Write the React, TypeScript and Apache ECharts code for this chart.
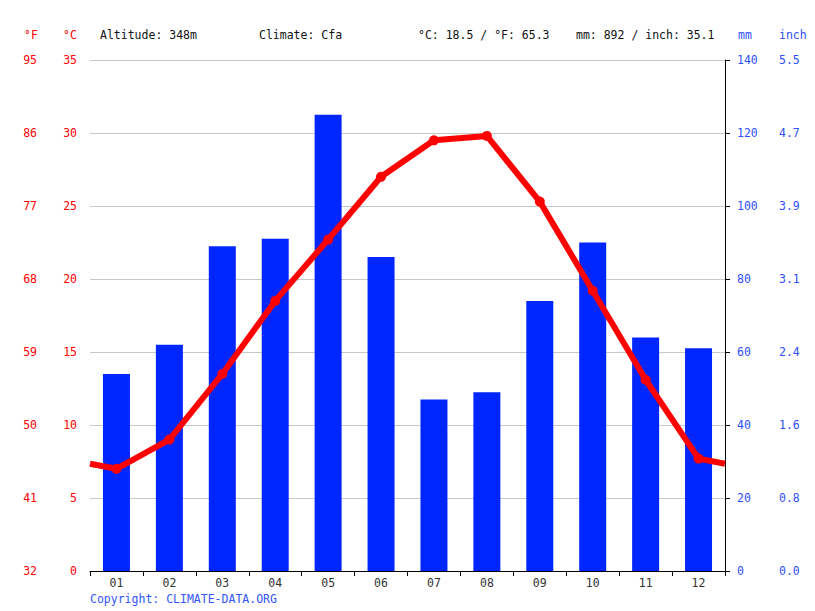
import React, { useEffect, useRef } from "react";
import * as echarts from "echarts";

const months = ["01", "02", "03", "04", "05", "06", "07", "08", "09", "10", "11", "12"];
const precipMm = [54, 62, 89, 91, 125, 86, 47, 49, 74, 90, 64, 61];
const tempC = [7.0, 9.0, 13.5, 18.5, 22.7, 27.0, 29.5, 29.8, 25.3, 19.2, 13.1, 7.7];
const fahrenheitLabels = ["32", "41", "50", "59", "68", "77", "86", "95"];
const inchLabels = ["0.0", "0.8", "1.6", "2.4", "3.1", "3.9", "4.7", "5.5"];
const headerTexts = ["Altitude: 348m", "Climate: Cfa", "°C: 18.5 / °F: 65.3", "mm: 892 / inch: 35.1"];

const FONT = "DejaVu Sans Mono";
const FS = 11.5;
const RED = "#ff0000";
const BLUE = "#0026ff";
const LABEL_BLUE = "#2f4fff";

const App: React.FC = () => {
  const chartRef = useRef<HTMLDivElement>(null);

  useEffect(() => {
    if (!chartRef.current) return;
    const chart = echarts.init(chartRef.current, null, { renderer: "svg" });

    // line wraps round the year: edge value is halfway between Dec and Jan
    const edge = (tempC[0] + tempC[11]) / 2;
    const lineData: any[] = [{ value: [0, edge], symbol: "none" }];
    tempC.forEach((t, i) => lineData.push([i + 0.5, t]));
    lineData.push({ value: [12, edge], symbol: "none" });

    const labelStyle = { fontFamily: FONT, fontSize: FS };
    const font = `${FS}px ${FONT}`;

    const option = {
      animation: false,
      grid: { left: 90, right: 90, top: 60, bottom: 40, containLabel: false },
      xAxis: [
        {
          type: "category",
          data: months,
          boundaryGap: true,
          axisLine: { lineStyle: { color: "#000", width: 1 } },
          axisTick: { show: true, length: 5, lineStyle: { color: "#000" } },
          axisLabel: { ...labelStyle, color: "#333", margin: 6 },
          splitLine: { show: false },
        },
        {
          type: "value",
          min: 0,
          max: 12,
          show: false,
        },
      ],
      yAxis: [
        {
          type: "value",
          min: 0,
          max: 35,
          interval: 5,
          position: "left",
          axisLine: { show: false },
          axisTick: { show: false },
          axisLabel: { ...labelStyle, color: RED, margin: 13 },
          splitLine: { lineStyle: { color: "#c8c8c8", width: 1 } },
        },
        {
          type: "value",
          min: 0,
          max: 35,
          interval: 5,
          position: "left",
          offset: 40,
          axisLine: { show: false },
          axisTick: { show: false },
          axisLabel: {
            ...labelStyle,
            color: RED,
            margin: 13,
            formatter: (v: number) => fahrenheitLabels[Math.round(v / 5)] ?? "",
          },
          splitLine: { show: false },
        },
        {
          type: "value",
          min: 0,
          max: 140,
          interval: 20,
          position: "right",
          axisLine: { show: true, lineStyle: { color: "#000", width: 1 } },
          axisTick: { show: true, length: 5, lineStyle: { color: "#000" } },
          axisLabel: { ...labelStyle, color: LABEL_BLUE, margin: 12 },
          splitLine: { show: false },
        },
        {
          type: "value",
          min: 0,
          max: 140,
          interval: 20,
          position: "right",
          offset: 54,
          axisLine: { show: false },
          axisTick: { show: false },
          axisLabel: {
            ...labelStyle,
            color: LABEL_BLUE,
            margin: 0,
            formatter: (v: number) => inchLabels[Math.round(v / 20)] ?? "",
          },
          splitLine: { show: false },
        },
      ],
      series: [
        {
          name: "Precipitation",
          type: "bar",
          xAxisIndex: 0,
          yAxisIndex: 2,
          data: precipMm,
          barWidth: "51%",
          itemStyle: { color: BLUE },
        },
        {
          name: "Temperature",
          type: "line",
          xAxisIndex: 1,
          yAxisIndex: 0,
          data: lineData,
          symbol: "circle",
          symbolSize: 10,
          itemStyle: { color: RED },
          lineStyle: { color: RED, width: 6 },
          z: 5,
        },
      ],
      graphic: [
        { type: "text", left: 24, top: 29, style: { text: "°F", fill: RED, font } },
        { type: "text", left: 63, top: 29, style: { text: "°C", fill: RED, font } },
        { type: "text", left: 100, top: 29, style: { text: headerTexts[0], fill: "#111", font } },
        { type: "text", left: 259, top: 29, style: { text: headerTexts[1], fill: "#111", font } },
        { type: "text", left: 418, top: 29, style: { text: headerTexts[2], fill: "#111", font } },
        { type: "text", left: 576, top: 29, style: { text: headerTexts[3], fill: "#111", font } },
        { type: "text", left: 738, top: 29, style: { text: "mm", fill: LABEL_BLUE, font } },
        { type: "text", left: 779, top: 29, style: { text: "inch", fill: LABEL_BLUE, font } },
        {
          type: "text",
          left: 90,
          top: 593,
          style: { text: "Copyright: CLIMATE-DATA.ORG", fill: "#3355ff", font },
        },
      ],
    };

    chart.setOption(option);
    return () => chart.dispose();
  }, []);

  return (
    <div
      ref={chartRef}
      style={{ position: "absolute", left: 0, top: 0, width: 815, height: 611, background: "#fff" }}
    />
  );
};

export default App;
